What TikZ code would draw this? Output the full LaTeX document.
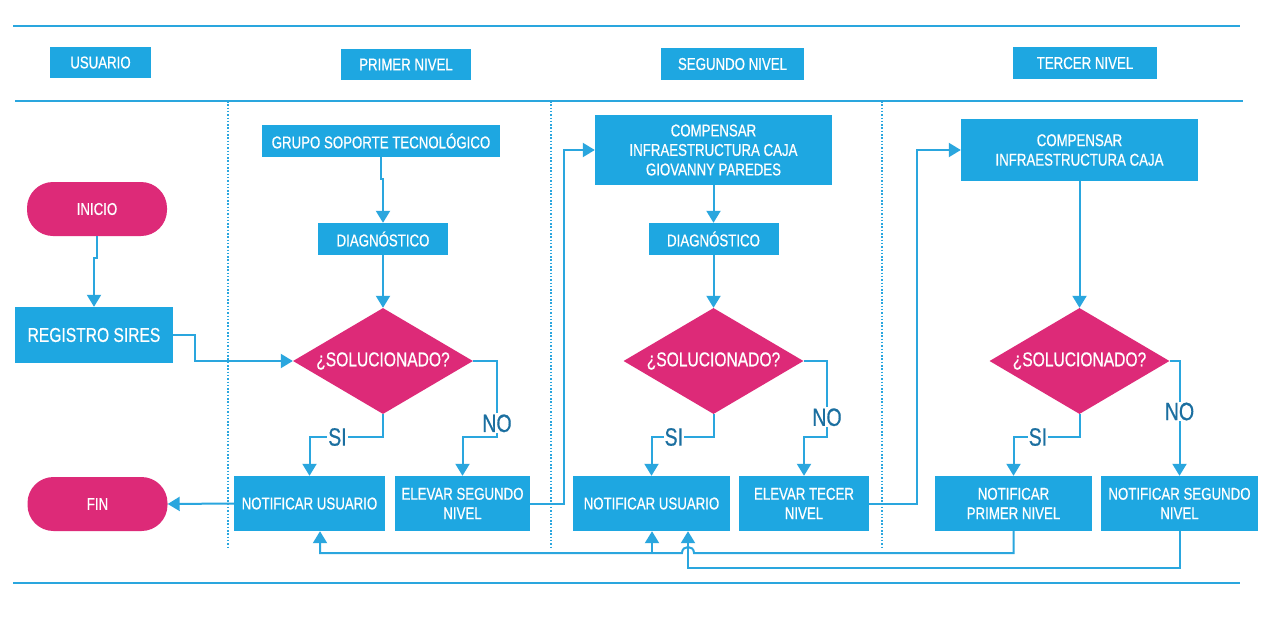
\documentclass[tikz,border=0pt]{standalone}
\usepackage{fontspec}
\setmainfont[FakeStretch=0.78,FakeBold=0.6]{Liberation Sans}
\usetikzlibrary{arrows.meta,shapes.geometric}
\definecolor{boxblue}{HTML}{1EA7E1}
\definecolor{pinkc}{HTML}{DD2A78}
\definecolor{linec}{HTML}{2AA6DE}
\definecolor{labc}{HTML}{1B6FA0}
\begin{document}
\begin{tikzpicture}[x=1pt,y=-1pt,
 box/.style={fill=boxblue,text=white,inner sep=0pt,align=center,font=\fontsize{17}{19.5}\selectfont},
 term/.style={fill=pinkc,text=white,rounded corners=26pt,inner sep=0pt,minimum width=140pt,minimum height=54pt,font=\fontsize{17}{19.5}\selectfont},
 dec/.style={diamond,fill=pinkc,text=white,inner sep=0pt,minimum width=180pt,minimum height=106pt,shape aspect=1.7,font=\fontsize{20}{22}\selectfont},
 conn/.style={draw=linec,line width=2pt,-{Triangle[width=14pt,length=12pt]}},
 lab/.style={text=labc,fill=white,inner sep=1pt,font=\fontsize{25}{27}\selectfont},
 lane/.style={draw=linec,line width=2.2pt},
 sep/.style={draw=linec,line width=1.3pt,dash pattern=on 1.5pt off 1.8pt}]
\fill[white] (0,0) rectangle (1281,618);
\useasboundingbox (0,0) rectangle (1281,618);
% lanes
\draw[lane] (13,26) -- (1240,26);
\draw[lane] (15,101) -- (1243,101);
\draw[lane] (13,583) -- (1240,583);
\draw[sep] (228,101) -- (228,548);
\draw[sep] (551,101) -- (551,548);
\draw[sep] (882,101) -- (882,548);
% headers
\node[box,minimum width=101pt,minimum height=31pt] (hu) at (100.5,62.5) {USUARIO};
\node[box,minimum width=130pt,minimum height=31pt] (h1) at (406,64.5) {PRIMER NIVEL};
\node[box,minimum width=143pt,minimum height=32pt] (h2) at (732.5,64) {SEGUNDO NIVEL};
\node[box,minimum width=144pt,minimum height=32pt] (h3) at (1085,63) {TERCER NIVEL};
% user lane
\node[term] (ini) at (97,209) {INICIO};
\node[box,minimum width=158pt,minimum height=56pt,font=\fontsize{20}{22}\selectfont] (reg) at (94,335) {REGISTRO SIRES};
\node[term] (fin) at (97.5,504) {FIN};
% first level
\node[box,minimum width=238pt,minimum height=32pt] (gst) at (381,141) {GRUPO SOPORTE TECNOLÓGICO};
\node[box,minimum width=130pt,minimum height=32pt] (dg1) at (383,239) {DIAGNÓSTICO};
\node[dec] (d1) at (383,361) {¿SOLUCIONADO?};
\node[box,minimum width=151pt,minimum height=55pt] (nu1) at (309.5,503.5) {NOTIFICAR USUARIO};
\node[box,minimum width=135pt,minimum height=55pt] (el2) at (462.5,503.5) {ELEVAR SEGUNDO\\NIVEL};
% second level
\node[box,minimum width=237pt,minimum height=70pt] (cp1) at (713.5,150) {COMPENSAR\\INFRAESTRUCTURA CAJA\\GIOVANNY PAREDES};
\node[box,minimum width=130pt,minimum height=32pt] (dg2) at (713.5,239) {DIAGNÓSTICO};
\node[dec] (d2) at (713.5,361) {¿SOLUCIONADO?};
\node[box,minimum width=157pt,minimum height=55pt] (nu2) at (651.5,503.5) {NOTIFICAR USUARIO};
\node[box,minimum width=130pt,minimum height=55pt] (el3) at (804,503.5) {ELEVAR TECER\\NIVEL};
% third level
\node[box,minimum width=237pt,minimum height=62pt] (cp2) at (1079.5,150) {COMPENSAR\\INFRAESTRUCTURA CAJA};
\node[dec] (d3) at (1079.5,361) {¿SOLUCIONADO?};
\node[box,minimum width=157pt,minimum height=55pt] (npn) at (1013.5,503.5) {NOTIFICAR\\PRIMER NIVEL};
\node[box,minimum width=157pt,minimum height=55pt] (nsn) at (1179.5,503.5) {NOTIFICAR SEGUNDO\\NIVEL};
% helper coordinates
\coordinate (b1) at (320,553);
\coordinate (j2) at (652,553);
\coordinate (j3) at (688,568);
% connectors
\draw[conn] (ini.south) -- (97,258) -- (94,258) -- (reg.north);
\draw[conn] (reg.east) -- (195,335) -- (195,361) -- (d1.west);
\draw[conn] (gst.south) -- (381,179) -- (383,179) -- (dg1.north);
\draw[conn] (dg1.south) -- (d1.north);
\draw[conn] (d1.south) -- (383,437) -- node[lab,pos=0.62]{SI} (309.5,437) -- (nu1.north);
\draw[conn] (d1.east) -- (497,361) -- node[lab,pos=0.82]{NO} (497,437) -- (462.5,437) -- (el2.north);
\draw[conn] (nu1.west) -- (fin.east);
\draw[conn] (el2.east) -- (564,503.5) -- (564,150) -- (cp1.west);
\draw[conn] (cp1.south) -- (dg2.north);
\draw[conn] (dg2.south) -- (d2.north);
\draw[conn] (d2.south) -- (713.5,437) -- node[lab,pos=0.64]{SI} (651.5,437) -- (nu2.north);
\draw[conn] (d2.east) -- (827,361) -- node[lab,pos=0.74]{NO} (827,437) -- (804,437) -- (el3.north);
\draw[conn] (el3.east) -- (917,503.5) -- (917,150) -- (cp2.west);
\draw[conn] (cp2.south) -- (d3.north);
\draw[conn] (d3.south) -- (1079.5,437) -- node[lab,pos=0.63]{SI} (1013.5,437) -- (npn.north);
\draw[conn] (d3.east) -- (1179.5,361) -- node[lab,pos=0.44]{NO} (nsn.north);
\draw[conn] (npn.south) -- (1013.5,553) -- (694,553) .. controls (694,545) and (682,545) .. (682,553) -- (b1) -- (nu1.south -| b1);
\draw[conn] (j2) -- (nu2.south -| j2);
\draw[conn] (nsn.south) -- (1179.5,568) -- (j3) -- (nu2.south -| j3);
\end{tikzpicture}
\end{document}
